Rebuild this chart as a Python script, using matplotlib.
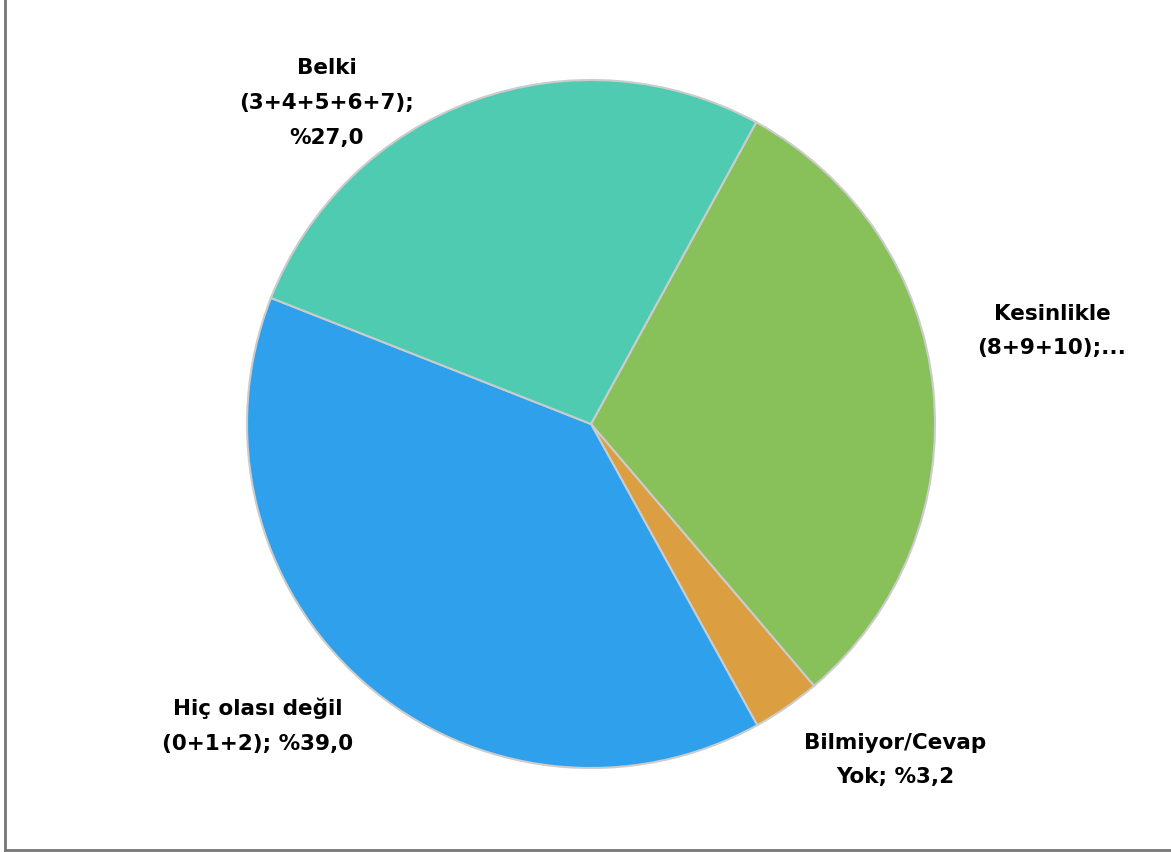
import matplotlib
matplotlib.use("Agg")
import matplotlib.pyplot as plt
from matplotlib.lines import Line2D

categories = ["Kesinlikle (8+9+10)", "Bilmiyor/Cevap Yok", "Hiç olası değil (0+1+2)", "Belki (3+4+5+6+7)"]
values = [30.8, 3.2, 39.0, 27.0]
labels = ["Kesinlikle\n(8+9+10);...", "Bilmiyor/Cevap\nYok; %3,2", "Hiç olası değil\n(0+1+2); %39,0", "Belki\n(3+4+5+6+7);\n%27,0"]
colors = ["#88C15A", "#DB9E41", "#2FA1EC", "#4ECBB0"]

W, H = 1171, 852
cx, cy, R = 591, 424, 344
fig = plt.figure(figsize=(W / 100, H / 100), dpi=100)
ax = fig.add_axes([0, 0, 1, 1])
ax.pie(values, colors=colors, startangle=61.3, counterclock=False, radius=1,
       wedgeprops=dict(edgecolor="#CCCCCC", linewidth=1.5))
ax.set_xlim(-cx / R, (W - cx) / R)
ax.set_ylim((cy - H) / R, cy / R)
ax.set_aspect("auto")
ax.axis("off")

def px(x, y):
    return ((x - cx) / R, (cy - y) / R)

label_pos = [(1052, 331), (895, 760), (258, 726), (327, 103)]
for lab, (x, y) in zip(labels, label_pos):
    ax.text(*px(x, y), lab, ha="center", va="center", fontsize=15.5,
            fontfamily="DejaVu Sans", fontweight="bold", linespacing=1.92, color="#000000")

fig.add_artist(Line2D([5 / W, 5 / W], [2 / H, 1], transform=fig.transFigure, color="#777777", lw=2))
fig.add_artist(Line2D([5 / W, 1], [2 / H, 2 / H], transform=fig.transFigure, color="#777777", lw=2))

fig.savefig("out.png", dpi=100)
